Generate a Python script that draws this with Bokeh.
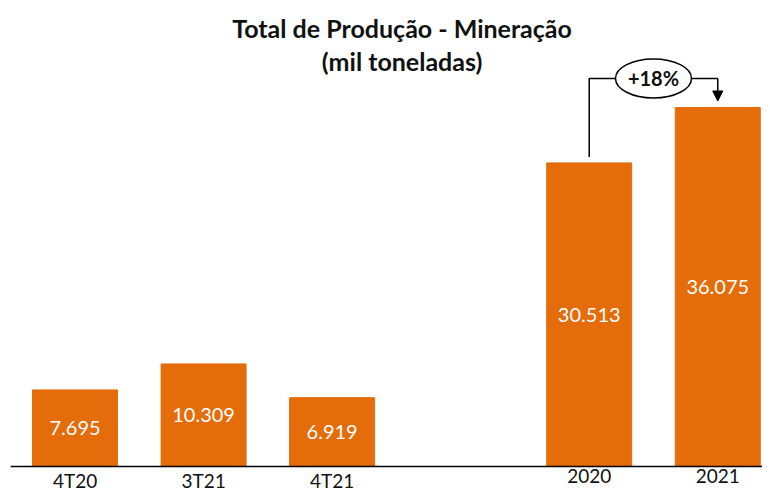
from bokeh.plotting import figure
from bokeh.models import Range1d, Label, Arrow, NormalHead, ColumnDataSource, Span
from bokeh.core.properties import value
from bokeh.embed import file_html
from bokeh.resources import INLINE

# ---- data ----
categories = ["4T20", "3T21", "4T21", "2020", "2021"]
values = [7695, 10309, 6919, 30513, 36075]          # mil toneladas
title_lines = ["Total de Produção - Mineração", "(mil toneladas)"]

# ---- styling ----
ORANGE = "#E46C0A"
FONT = "Lato"
TEXT_COLOR = "#111111"

# a blank slot separates the quarters from the years
positions = [i + (1 if i >= 3 else 0) for i in range(len(categories))]
fmt = lambda v: f"{v:,}".replace(",", ".")

src = ColumnDataSource(dict(
    x=positions,
    top=values,
    mid=[v / 2 for v in values],
    label=[fmt(v) for v in values],
    cat=categories,
    zero=[0] * len(values),
))

p = figure(width=762, height=493, output_backend="svg", toolbar_location=None,
           x_range=Range1d(-0.502, 5.348), y_range=Range1d(-2714, 46834),
           min_border_left=10, min_border_right=0, min_border_top=0, min_border_bottom=0)
p.outline_line_color = None
p.xgrid.visible = False
p.ygrid.visible = False
p.xaxis.visible = False
p.yaxis.visible = False
p.background_fill_color = "white"
p.border_fill_color = "white"

p.vbar(x="x", top="top", bottom=0, width=0.661, color=ORANGE, source=src)
p.text(x="x", y="mid", text="label", source=src, text_align="center", text_baseline="middle",
       text_color="white", text_font=value(FONT), text_font_size="20px")

# category axis: baseline + labels
p.add_layout(Span(location=0, dimension="width", line_color="black", line_width=1.5))
p.text(x="x", y="zero", text="cat", source=src, text_align="center", text_baseline="top",
       y_offset=3, text_color=TEXT_COLOR, text_font=value(FONT), text_font_size="19px")

# title
TITLE_X = 2.544
for txt, y in zip(title_lines, [44050, 40730]):
    p.add_layout(Label(x=TITLE_X, y=y, text=txt, text_align="center", text_baseline="alphabetic",
                       text_font=FONT, text_font_style="bold", text_font_size="25px",
                       text_color=TEXT_COLOR))

# growth bracket between 2020 and 2021
x0, x1 = positions[-2], positions[-1]
v0, v1 = values[-2], values[-1]
bracket_y = 39000
mid_x = (x0 + x1) / 2
p.line(x=[x0, x0, mid_x], y=[v0 + 590, bracket_y, bracket_y], line_color="black", line_width=1.5)
p.line(x=[mid_x, x1], y=[bracket_y, bracket_y], line_color="black", line_width=1.5)
p.add_layout(Arrow(x_start=x1, y_start=bracket_y, x_end=x1, y_end=v1 + 660,
                   line_color="black", line_width=1.5,
                   end=NormalHead(size=10, fill_color="black", line_color="black")))
p.ellipse(x=[mid_x], y=[bracket_y], width=0.591, height=3920, fill_color="white",
          line_color="black", line_width=1.5)
pct = round((v1 / v0 - 1) * 100)
p.text(x=[mid_x], y=[bracket_y], text=[f"+{pct}%"], text_align="center", text_baseline="middle",
       text_font=value(FONT), text_font_style="bold", text_font_size="20px", text_color=TEXT_COLOR)

open("out.html", "w").write(file_html(p, INLINE))
